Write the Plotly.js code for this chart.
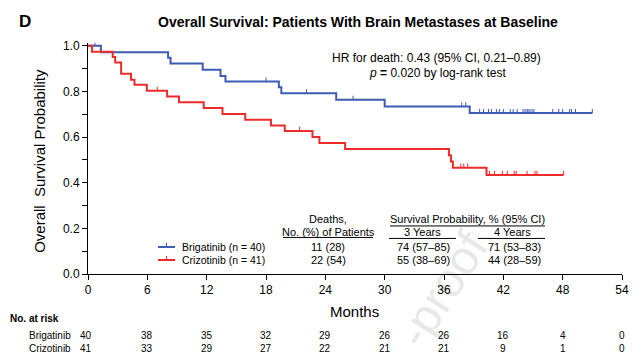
<!DOCTYPE html>
<html>
<head>
<meta charset="utf-8">
<script src="https://cdn.plot.ly/plotly-3.0.1.min.js"></script>
<style>html,body{margin:0;padding:0;background:#fff;}#chart{width:642px;height:360px;}</style>
</head>
<body>
<div id="chart"></div>
<script>
// ---------- data ----------
const months = [0, 6, 12, 18, 24, 30, 36, 42, 48, 54];
const riskBrigatinib = [40, 38, 35, 32, 29, 26, 26, 16, 4, 0];
const riskCrizotinib = [41, 33, 29, 27, 22, 21, 21, 9, 1, 0];

const brigTimes = [0, 1.3, 8.1, 8.35, 11.6, 13.4, 13.9, 19.3, 19.55, 25.1, 30.0, 38.6, 51.0];
const brigSurv  = [1.0, 0.972, 0.947, 0.922, 0.895, 0.867, 0.843, 0.818, 0.792, 0.763, 0.734, 0.705, 0.705];
const brigCensor = [0.7, 18.0, 22.1, 26.8, 37.8, 38.2, 39.6, 40.0, 40.5, 40.8, 41.3, 41.6, 42.0, 42.7, 43.0, 43.4,
                    44.0, 44.2, 44.4, 44.5, 44.7, 44.9, 45.1, 47.0, 47.6, 48.0, 48.7, 48.9, 49.3, 51.0];

const crizTimes = [0, 0.4, 2.5, 2.75, 3.35, 4.35, 4.7, 5.95, 8.0, 9.2, 11.7, 13.6, 15.9, 18.5, 19.9, 22.7, 23.4, 26.0, 36.5, 36.7, 36.9, 40.3, 48.1];
const crizSurv  = [1.0, 0.974, 0.951, 0.927, 0.877, 0.851, 0.829, 0.803, 0.778, 0.752, 0.727, 0.701, 0.676, 0.651, 0.627, 0.600, 0.574, 0.548, 0.520, 0.493, 0.466, 0.434, 0.434];
const crizCensor = [7.0, 21.4, 37.7, 38.0, 38.4, 40.6, 41.1, 41.9, 42.4, 43.1, 43.3, 44.4, 45.2, 45.4, 48.1];

const seriesNames = ['Brigatinib (n = 40)', 'Crizotinib (n = 41)'];
const rowNames = ['Brigatinib', 'Crizotinib'];
const deaths = ['11 (28)', '22 (54)'];
const surv3y = ['74 (57–85)', '55 (38–69)'];
const surv4y = ['71 (53–83)', '44 (28–59)'];

// ---------- styles ----------
const BLUE = '#3d5cb3';
const RED = '#ee2b2b';
const FONT = 'Liberation Sans, Arial, Helvetica, sans-serif';

function stepAt(times, surv, t) {
  let s = surv[0];
  for (let i = 0; i < times.length; i++) { if (times[i] <= t) s = surv[i]; }
  return s;
}

// figure geometry (pixels)
const W = 642, H = 360, L = 88, R = 20, B = 86;
const plotW = W - L - R;           // 534
const pxPerUnit = 228;             // y: 1.0 -> 46px, 0.0 -> 274px
const yMax = 1.012;
const T = H - B - pxPerUnit * yMax;
function px(x) { return (x - L) / plotW; }
function py(y) { return (H - B - y) / (pxPerUnit * yMax); }

const traces = [];
[[brigTimes, brigSurv, brigCensor, BLUE], [crizTimes, crizSurv, crizCensor, RED]].forEach(function (s, k) {
  traces.push({
    x: s[0], y: s[1], type: 'scatter', mode: 'lines', name: seriesNames[k],
    line: {shape: 'hv', color: s[3], width: 2}, showlegend: false, hoverinfo: 'skip'
  });
  traces.push({
    x: s[2], y: s[2].map(function (t) { return stepAt(s[0], s[1], t); }),
    type: 'scatter', mode: 'markers', showlegend: false, hoverinfo: 'skip',
    marker: {size: 2, color: 'rgba(0,0,0,0)'},
    error_y: {type: 'constant', symmetric: false, value: 0.018, valueminus: 0, width: 0, thickness: 1, color: s[3]}
  });
});

const ann = [];
function txt(text, x, y, size, opts) {
  ann.push(Object.assign({
    text: text, xref: 'paper', yref: 'paper', x: px(x), y: py(y), xanchor: 'center', yanchor: 'middle',
    showarrow: false, font: {family: FONT, size: size, color: '#000'}
  }, opts || {}));
}
// watermark
txt('-proof', 442, 289, 48, {textangle: -57.5, font: {family: FONT, size: 48, color: 'rgba(0,0,0,0.09)'}});

txt('<b>D</b>', 24.5, 22, 17);
txt('HR for death: 0.43 (95% CI, 0.21–0.89)', 436, 58, 12);
txt('<i>p</i> <b>=</b> 0.020 by log-rank test', 437, 73, 12);
txt('Overall\u00a0 Survival Probability', 40, 161, 15, {textangle: -90});
txt('Months', 354, 311, 15);
// legend
txt(seriesNames[0], 180, 247, 10.5, {xanchor: 'left'});
txt(seriesNames[1], 180, 260, 10.5, {xanchor: 'left'});
// table
txt('Deaths,', 328, 219, 11);
txt('No. (%) of Patients', 328, 232, 11);
txt('Survival Probability, % (95% CI)', 467, 219, 11);
txt('3 Years', 422, 232, 11);
txt('4 Years', 512, 232, 11);
for (let r = 0; r < 2; r++) {
  const yy = 247 + r * 13.5;
  txt(deaths[r], 328, yy, 11);
  txt(surv3y[r], 423, yy, 11);
  txt(surv4y[r], 514, yy, 11);
}
// risk table
txt('<b>No. at risk</b>', 8, 318, 10, {xanchor: 'left'});
[riskBrigatinib, riskCrizotinib].forEach(function (row, r) {
  const yy = 335 + r * 13;
  txt(rowNames[r], 27, yy, 10, {xanchor: 'left'});
  row.forEach(function (v, i) {
    ann.push({text: String(v), xref: 'x', yref: 'paper', x: months[i], y: py(yy), xanchor: 'center', yanchor: 'middle',
      xshift: i === 0 ? -2 : 0, showarrow: false, font: {family: FONT, size: 10, color: '#000'}});
  });
});

const shapes = [];
function hline(x0, x1, y, color, width) {
  shapes.push({type: 'line', xref: 'paper', yref: 'paper', x0: px(x0), x1: px(x1), y0: py(y), y1: py(y), line: {color: color, width: width}});
}
function vline(x, y0, y1, color, width) {
  shapes.push({type: 'line', xref: 'paper', yref: 'paper', x0: px(x), x1: px(x), y0: py(y0), y1: py(y1), line: {color: color, width: width}});
}
hline(283, 373, 237.5, '#000', 1);
hline(390, 545, 226, '#000', 1);
hline(389, 456, 238.5, '#000', 1);
hline(478, 545, 238.5, '#000', 1);
hline(158, 175, 247, BLUE, 2);
vline(166.5, 247, 243, BLUE, 1);
hline(158, 175, 260, RED, 2);
vline(166.5, 260, 256, RED, 1);

const layout = {
  width: W, height: H,
  margin: {l: L, r: R, t: T, b: B, pad: 0},
  paper_bgcolor: '#fff', plot_bgcolor: '#fff',
  font: {family: FONT, color: '#000'},
  title: {text: '<b>Overall Survival: Patients With Brain Metastases at Baseline</b>', x: 358 / W, xanchor: 'center',
          y: 1 - 22 / H, yanchor: 'middle', font: {family: FONT, size: 14, color: '#000'}},
  showlegend: false,
  xaxis: {
    range: [0, 54], tickvals: months, ticktext: months.map(String), ticks: 'outside', ticklen: 5, tickwidth: 1, tickcolor: '#000',
    showline: true, linecolor: '#000', linewidth: 1, showgrid: false, zeroline: false,
    tickfont: {family: FONT, size: 12, color: '#000'}, fixedrange: true
  },
  yaxis: {
    range: [0, yMax], tickvals: [0, 0.2, 0.4, 0.6, 0.8, 1.0], tickformat: '.1f', ticks: 'outside', ticklen: 5, tickwidth: 1, tickcolor: '#000',
    minor: {tickvals: [0.1, 0.3, 0.5, 0.7, 0.9], ticks: 'outside', ticklen: 5, tickwidth: 1, tickcolor: '#000', showgrid: false},
    showline: true, linecolor: '#000', linewidth: 1, showgrid: false, zeroline: false,
    tickfont: {family: FONT, size: 12, color: '#000'}, fixedrange: true
  },
  annotations: ann,
  shapes: shapes
};

Plotly.newPlot('chart', traces, layout, {displayModeBar: false, staticPlot: true});
</script>
</body>
</html>
